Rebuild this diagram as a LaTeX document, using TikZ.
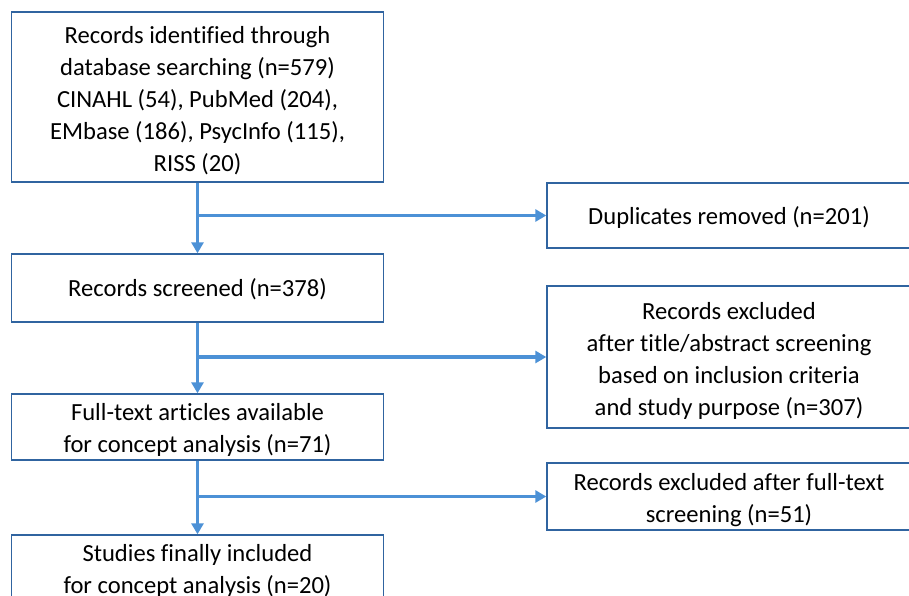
\documentclass[tikz,border=0pt]{standalone}
\usepackage{fontspec}
\setmainfont[Ligatures=NoCommon]{Carlito}
\usetikzlibrary{arrows.meta}
\definecolor{lineblue}{RGB}{76,145,214}
\definecolor{boxblue}{RGB}{48,100,160}
\begin{document}
\begin{tikzpicture}[x=1pt,y=-1pt,
  box/.style={draw=boxblue,line width=1.4pt,rectangle,inner sep=0pt},
  txt/.style={inner sep=0pt,align=center,font=\fontsize{24.6}{32}\selectfont},
  flow/.style={draw=lineblue,line width=3.6pt,-{Triangle[length=11pt,width=12pt]}}]
\useasboundingbox (0,0) rectangle (909,595);
% boxes
\node[box,minimum width=372pt,minimum height=170pt] (id) at (197.5,97) {};
\node[box,minimum width=372pt,minimum height=68pt] (scr) at (197.5,288) {};
\node[box,minimum width=372pt,minimum height=66pt] (full) at (197.5,427) {};
\node[box,minimum width=372pt,minimum height=66pt] (fin) at (197.5,568) {};
\node[box,minimum width=364pt,minimum height=65pt] (dup) at (729,215.5) {};
\node[box,minimum width=364pt,minimum height=142pt] (exc) at (729,357) {};
\node[box,minimum width=364pt,minimum height=67pt] (exf) at (729,496.5) {};
% texts
\node[txt] (idt) at ([yshift=-4pt]id.center)
  {Records identified through\\database searching (n=579)\\CINAHL (54), PubMed (204),\\EMbase (186), PsycInfo (115),\\RISS (20)};
\node[txt] (scrt) at ([yshift=-1.5pt]scr.center) {Records screened (n=378)};
\node[txt] (fullt) at ([yshift=-2.5pt]full.center)
  {Full-text articles available\\for concept analysis (n=71)};
\node[txt] (fint) at ([yshift=-3pt]fin.center)
  {Studies finally included\\for concept analysis (n=20)};
\node[txt] (dupt) at ([yshift=-2pt]dup.center) {Duplicates removed (n=201)};
\node[txt] (exct) at ([yshift=-4pt]exc.center)
  {Records excluded\\after title/abstract screening\\based on inclusion criteria\\and study purpose (n=307)};
\node[txt] (exft) at ([yshift=-4pt]exf.center)
  {Records excluded after full-text\\screening (n=51)};
% connectors
\coordinate (b1) at (id.south |- dup.west);
\coordinate (b2) at (scr.south |- exc.west);
\coordinate (b3) at (full.south |- exf.west);
\draw[flow] (id.south) -- (scr.north);
\draw[flow] (scr.south) -- (full.north);
\draw[flow] (full.south) -- (fin.north);
\draw[flow] (b1) -- (dup.west);
\draw[flow] (b2) -- (exc.west);
\draw[flow] (b3) -- (exf.west);
\end{tikzpicture}
\end{document}
